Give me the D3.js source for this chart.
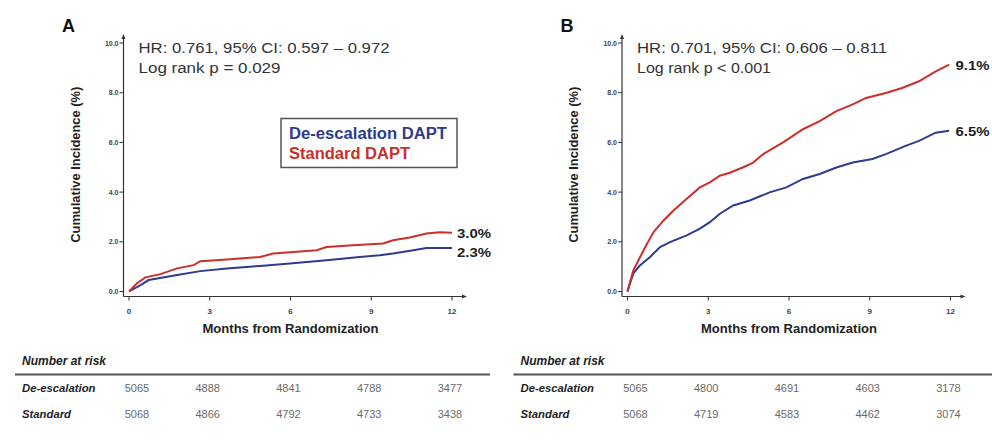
<!DOCTYPE html>
<html><head><meta charset="utf-8">
<script src="https://cdn.jsdelivr.net/npm/d3@7"></script>
<style>body{margin:0;background:#fff}svg{display:block}</style>
</head><body>
<svg id="c" width="992" height="440"></svg>
<script>
// ---------- data ----------
const xTickMonths = [0, 3, 6, 9, 12];
const yTickValues = [0, 2, 4, 6, 8, 10];
const seriesNames = ["De-escalation DAPT", "Standard DAPT"];
const riskRowLabels = ["De-escalation", "Standard"];

// Panel A
const aStdT = [0,0.3,0.61,1.17,1.79,2.4,2.65,3.64,4.87,5.36,6.1,6.97,7.34,8.33,9.44,9.81,10.43,11.05,11.54,12];
const aStdV = [0,0.33,0.57,0.70,0.93,1.06,1.22,1.29,1.39,1.53,1.59,1.66,1.79,1.86,1.93,2.06,2.17,2.33,2.38,2.36];
const aDeT  = [0,0.43,0.73,1.79,2.65,3.64,4.87,5.98,7.34,8.57,9.32,9.81,10.56,11.05,12];
const aDeV  = [0,0.26,0.46,0.66,0.82,0.93,1.03,1.13,1.26,1.39,1.46,1.53,1.66,1.75,1.75];
const aEndLabels = ["3.0%", "2.3%"];
const aStats = ["HR: 0.761, 95% CI: 0.597 \u2013 0.972", "Log rank p = 0.029"];
const aRiskDe  = ["5065","4888","4841","4788","3477"];
const aRiskStd = ["5068","4866","4792","4733","3438"];

// Panel B
const bStdT = [0,0.1,0.22,0.47,0.73,0.97,1.34,1.71,2.2,2.69,3.06,3.43,3.8,4.3,4.67,5.04,5.78,6.52,7.14,7.76,8.37,8.86,9.6,10.2,10.83,11.45,11.95];
const bStdV = [0,0.4,0.86,1.39,1.93,2.39,2.86,3.26,3.73,4.19,4.39,4.66,4.78,5.0,5.19,5.53,6.0,6.53,6.86,7.26,7.53,7.79,7.99,8.19,8.46,8.86,9.13];
const bDeT  = [0,0.1,0.22,0.47,0.84,1.21,1.58,2.2,2.69,3.06,3.43,3.93,4.54,5.28,5.9,6.52,7.14,7.76,8.37,9.1,9.6,10.33,10.83,11.45,11.95];
const bDeV  = [0,0.35,0.73,1.06,1.39,1.79,1.99,2.26,2.53,2.79,3.13,3.46,3.66,3.99,4.19,4.53,4.73,4.99,5.19,5.33,5.53,5.86,6.06,6.39,6.47];
const bEndLabels = ["9.1%", "6.5%"];
const bStats = ["HR: 0.701, 95% CI: 0.606 \u2013 0.811", "Log rank p < 0.001"];
const bRiskDe  = ["5065","4800","4691","4603","3178"];
const bRiskStd = ["5068","4719","4583","4462","3074"];

// ---------- drawing ----------
const RED = "#cc2f2a", BLUE = "#2e3b8f", AX = "#333";
const svg = d3.select("#c");
const SANS = "'Liberation Sans', Arial, sans-serif";

function panel(cfg) {
  const g = svg.append("g");
  const x = d3.scaleLinear().domain([0, 12]).range([cfg.x0, cfg.x0 + 323]);
  const y = d3.scaleLinear().domain([0, 10]).range([291.5, 43]);
  const axL = cfg.x0 - 5.5, axB = 296.5;

  // panel letter
  g.append("text").attr("x", cfg.x0 - 67).attr("y", 32).attr("font-family", SANS)
    .attr("font-weight", "bold").attr("font-size", 18).attr("fill", "#111").text(cfg.letter);

  // y axis
  g.append("line").attr("x1", axL).attr("x2", axL).attr("y1", axB).attr("y2", 38)
    .attr("stroke", AX).attr("stroke-width", 1.2);
  g.append("path").attr("d", `M${axL - 2},${39} L${axL},${34} L${axL + 2},${39} Z`).attr("fill", AX);
  const yt = g.selectAll(".yt").data(yTickValues).enter();
  yt.append("line").attr("x1", axL - 4).attr("x2", axL).attr("y1", d => y(d)).attr("y2", d => y(d))
    .attr("stroke", AX).attr("stroke-width", 1);
  yt.append("text").attr("x", axL - 5).attr("y", d => y(d) + 2.5).attr("text-anchor", "end")
    .attr("font-family", SANS).attr("font-weight", "bold").attr("font-size", 7).attr("fill", "#444")
    .text(d => d.toFixed(1));

  // x axis
  g.append("line").attr("x1", axL).attr("x2", x(12) + 11).attr("y1", axB).attr("y2", axB)
    .attr("stroke", AX).attr("stroke-width", 1.2);
  g.append("path").attr("d", `M${x(12) + 10},${axB - 2} L${x(12) + 15},${axB} L${x(12) + 10},${axB + 2} Z`).attr("fill", AX);
  const xt = g.selectAll(".xt").data(xTickMonths).enter();
  xt.append("line").attr("x1", d => x(d)).attr("x2", d => x(d)).attr("y1", axB).attr("y2", axB + 4)
    .attr("stroke", AX).attr("stroke-width", 1);
  xt.append("text").attr("x", d => x(d)).attr("y", 314).attr("text-anchor", "middle")
    .attr("font-family", SANS).attr("font-weight", "bold").attr("font-size", 8).attr("fill", "#444")
    .text(d => d);

  // axis titles
  g.append("text").attr("x", x(6)).attr("y", 333).attr("text-anchor", "middle")
    .attr("font-family", SANS).attr("font-weight", "bold").attr("font-size", 13).attr("fill", "#222")
    .attr("textLength", 176).attr("lengthAdjust", "spacingAndGlyphs")
    .text("Months from Randomization");
  g.append("text").attr("transform", `translate(${cfg.x0 - 49.5},${y(5.1)}) rotate(-90)`)
    .attr("text-anchor", "middle").attr("font-family", SANS).attr("font-weight", "bold")
    .attr("font-size", 12).attr("fill", "#222")
    .attr("textLength", 156).attr("lengthAdjust", "spacingAndGlyphs")
    .text("Cumulative Incidence (%)");

  // stats text
  g.selectAll(".st").data(cfg.stats).enter().append("text")
    .attr("x", cfg.x0 + 9.5).attr("y", (d, i) => 52.5 + i * 20)
    .attr("font-family", SANS).attr("font-size", 15.5).attr("fill", "#333")
    .attr("textLength", (d, i) => cfg.statsW[i]).attr("lengthAdjust", "spacingAndGlyphs")
    .text(d => d);

  // curves
  const line = d3.line().x(d => x(d[0])).y(d => y(d[1]));
  const std = d3.zip(cfg.stdT, cfg.stdV), de = d3.zip(cfg.deT, cfg.deV);
  g.append("path").datum(de).attr("d", line).attr("fill", "none").attr("stroke", BLUE).attr("stroke-width", 2);
  g.append("path").datum(std).attr("d", line).attr("fill", "none").attr("stroke", RED).attr("stroke-width", 2);

  // end labels
  const ends = [std[std.length - 1], de[de.length - 1]];
  g.selectAll(".el").data(cfg.endLabels).enter().append("text")
    .attr("x", x(12) + 5).attr("y", (d, i) => y(ends[i][1]) + cfg.endDy[i])
    .attr("font-family", SANS).attr("font-weight", "bold").attr("font-size", 13.5).attr("fill", "#222")
    .attr("textLength", 34).attr("lengthAdjust", "spacingAndGlyphs")
    .text(d => d);

  // legend
  if (cfg.legend) {
    g.append("rect").attr("x", 281).attr("y", 118.5).attr("width", 176).attr("height", 49)
      .attr("fill", "#fff").attr("stroke", "#555").attr("stroke-width", 1.5);
    g.selectAll(".lg").data(seriesNames).enter().append("text")
      .attr("x", 289).attr("y", (d, i) => 139 + i * 20)
      .attr("font-family", SANS).attr("font-weight", "bold").attr("font-size", 16)
      .attr("textLength", (d, i) => i === 0 ? 158 : 121).attr("lengthAdjust", "spacingAndGlyphs")
      .attr("fill", (d, i) => i === 0 ? BLUE : RED).text(d => d);
  }

  // number at risk table
  const tL = cfg.x0 - 114;
  g.append("text").attr("x", tL + 7).attr("y", 365).attr("font-family", SANS).attr("font-style", "italic")
    .attr("font-weight", "bold").attr("font-size", 12).attr("fill", "#222").text("Number at risk");
  g.append("line").attr("x1", tL).attr("x2", cfg.tableEnd).attr("y1", 374.5).attr("y2", 374.5)
    .attr("stroke", "#555").attr("stroke-width", 1.8);
  const rows = [cfg.riskDe, cfg.riskStd];
  rows.forEach((r, ri) => {
    const yy = 392 + ri * 26;
    g.append("text").attr("x", tL + 7).attr("y", yy).attr("font-family", SANS).attr("font-style", "italic")
      .attr("font-weight", "bold").attr("font-size", 11.3).attr("fill", "#222").text(riskRowLabels[ri]);
    g.selectAll(null).data(r).enter().append("text")
      .attr("x", (d, i) => x(xTickMonths[i]) + (i === 0 ? 8 : -2))
      .attr("y", yy).attr("text-anchor", "middle").attr("font-family", SANS)
      .attr("font-size", 11).attr("fill", "#6a6a6a").text(d => d);
  });
}

panel({ letter: "A", x0: 129, stats: aStats, statsW: [251, 142], stdT: aStdT, stdV: aStdV, deT: aDeT, deV: aDeV,
  endLabels: aEndLabels, endDy: [5, 9], legend: true, riskDe: aRiskDe, riskStd: aRiskStd, tableEnd: 490 });
panel({ letter: "B", x0: 627.5, stats: bStats, statsW: [250, 134], stdT: bStdT, stdV: bStdV, deT: bDeT, deV: bDeV,
  endLabels: bEndLabels, endDy: [5, 5], legend: false, riskDe: bRiskDe, riskStd: bRiskStd, tableEnd: 992 });
</script>
</body></html>
